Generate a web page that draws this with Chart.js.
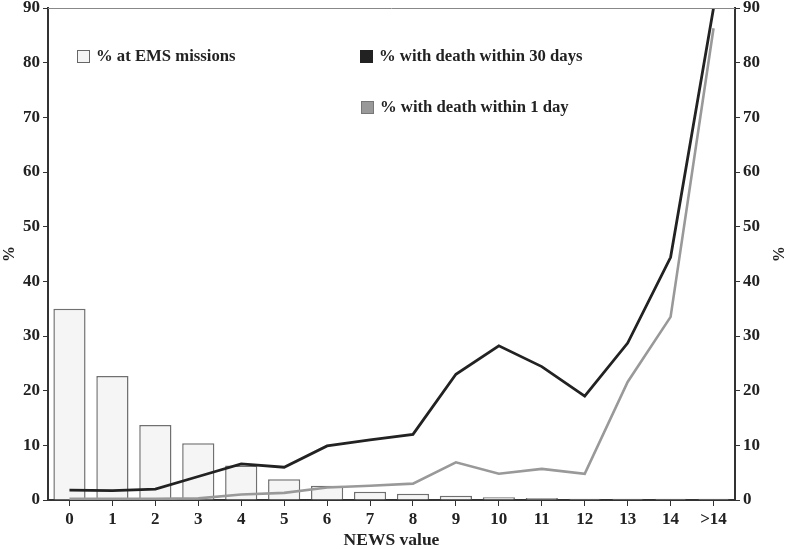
<!DOCTYPE html>
<html><head><meta charset="utf-8">
<script src="https://cdn.jsdelivr.net/npm/chart.js@4"></script>
<style>html,body{margin:0;padding:0;background:#fff}#wrap{width:787px;height:549px;position:relative}</style>
</head><body><div id="wrap"><canvas id="c" width="787" height="549"></canvas></div>
<script>
const categories = ['0','1','2','3','4','5','6','7','8','9','10','11','12','13','14','>14'];
const emsMissions = [35.0, 22.7, 13.7, 10.4, 6.3, 3.8, 2.6, 1.5, 1.15, 0.8, 0.5, 0.35, 0.25, 0.25, 0.25, 0.25];
const death30 = [1.8, 1.7, 2.0, 4.3, 6.6, 6.0, 9.9, 11.0, 12.0, 23.0, 28.2, 24.4, 19.0, 28.7, 44.4, 90.0];
const death1 = [0.2, 0.2, 0.2, 0.3, 1.0, 1.3, 2.3, 2.6, 3.0, 6.9, 4.8, 5.7, 4.8, 21.6, 33.5, 86.3];
const yTicks = [0,10,20,30,40,50,60,70,80,90];

const FONT = '"Liberation Serif", "DejaVu Serif", serif';
const INK = '#222';

const legendPlugin = {
  id: 'customLegend',
  afterDraw(chart) {
    const ctx = chart.ctx;
    const items = [
      {ds: 0, x: 77, y: 50, fill: '#f4f4f4', stroke: '#666'},
      {ds: 1, x: 360, y: 50, fill: '#222', stroke: '#222'},
      {ds: 2, x: 361, y: 101, fill: '#999', stroke: '#777'}
    ];
    ctx.save();
    ctx.font = 'bold 16.7px ' + FONT;
    ctx.textBaseline = 'middle';
    items.forEach(it => {
      ctx.fillStyle = it.fill;
      ctx.fillRect(it.x, it.y, 12, 12);
      ctx.strokeStyle = it.stroke;
      ctx.lineWidth = 1;
      ctx.strokeRect(it.x + 0.5, it.y + 0.5, 12, 12);
      ctx.fillStyle = INK;
      ctx.fillText(chart.data.datasets[it.ds].label, it.x + 19, it.y + 6.5);
    });
    const a = chart.chartArea;
    ctx.strokeStyle = '#888';
    ctx.lineWidth = 1;
    ctx.beginPath();
    ctx.moveTo(a.left, a.top + 0.5);
    ctx.lineTo(a.right, a.top + 0.5);
    ctx.stroke();
    ctx.restore();
  }
};

const tickFont = {family: FONT, size: 17, weight: 'bold'};

new Chart(document.getElementById('c'), {
  data: {
    labels: categories,
    datasets: [
      {type: 'bar', label: '% at EMS missions', data: emsMissions, backgroundColor: '#f5f5f5', borderColor: '#707070', borderWidth: 1.5, categoryPercentage: 1.0, barPercentage: 0.75, order: 3, yAxisID: 'y'},
      {type: 'line', label: '% with death within 30 days', data: death30, borderColor: '#222', borderWidth: 2.8, pointRadius: 0, tension: 0, fill: false, order: 1, yAxisID: 'y'},
      {type: 'line', label: '% with death within 1 day', data: death1, borderColor: '#999', borderWidth: 2.6, pointRadius: 0, tension: 0, fill: false, order: 2, yAxisID: 'y'}
    ]
  },
  options: {
    responsive: false,
    animation: false,
    layout: {padding: {top: 8, left: 0, right: 0, bottom: 0}},
    plugins: {legend: {display: false}, tooltip: {enabled: false}},
    scales: {
      x: {
        offset: true,
        grid: {display: true, drawOnChartArea: false, drawTicks: true, tickLength: 6, color: '#333', offset: false},
        border: {color: '#333', width: 2},
        ticks: {color: INK, font: tickFont, padding: 3, maxRotation: 0, autoSkip: false},
        title: {display: true, text: 'NEWS value', color: INK, font: {family: FONT, size: 17.5, weight: 'bold', lineHeight: 1.0}, padding: {top: 3, bottom: 0}},
        afterFit(s) { s.height = 49; s.paddingLeft = 0; s.paddingRight = 0; }
      },
      y: {
        position: 'left', min: 0, max: 90,
        afterBuildTicks(s) { s.ticks = yTicks.map(v => ({value: v})); },
        grid: {display: true, drawOnChartArea: false, tickLength: 5, color: '#333'},
        border: {color: '#333', width: 2},
        ticks: {color: INK, font: tickFont, padding: 3},
        title: {display: true, text: '%', color: INK, font: {family: FONT, size: 16, weight: 'bold'}, padding: 0},
        afterFit(s) { s.width = 48; s.paddingTop = 0; s.paddingBottom = 0; }
      },
      y1: {
        position: 'right', min: 0, max: 90,
        afterBuildTicks(s) { s.ticks = yTicks.map(v => ({value: v})); },
        grid: {display: true, drawOnChartArea: false, tickLength: 5, color: '#333'},
        border: {color: '#333', width: 2},
        ticks: {color: INK, font: tickFont, padding: 3},
        title: {display: true, text: '%', color: INK, font: {family: FONT, size: 16, weight: 'bold'}, padding: 0},
        afterFit(s) { s.width = 52; s.paddingTop = 0; s.paddingBottom = 0; }
      }
    }
  },
  plugins: [legendPlugin]
});
</script></body></html>
